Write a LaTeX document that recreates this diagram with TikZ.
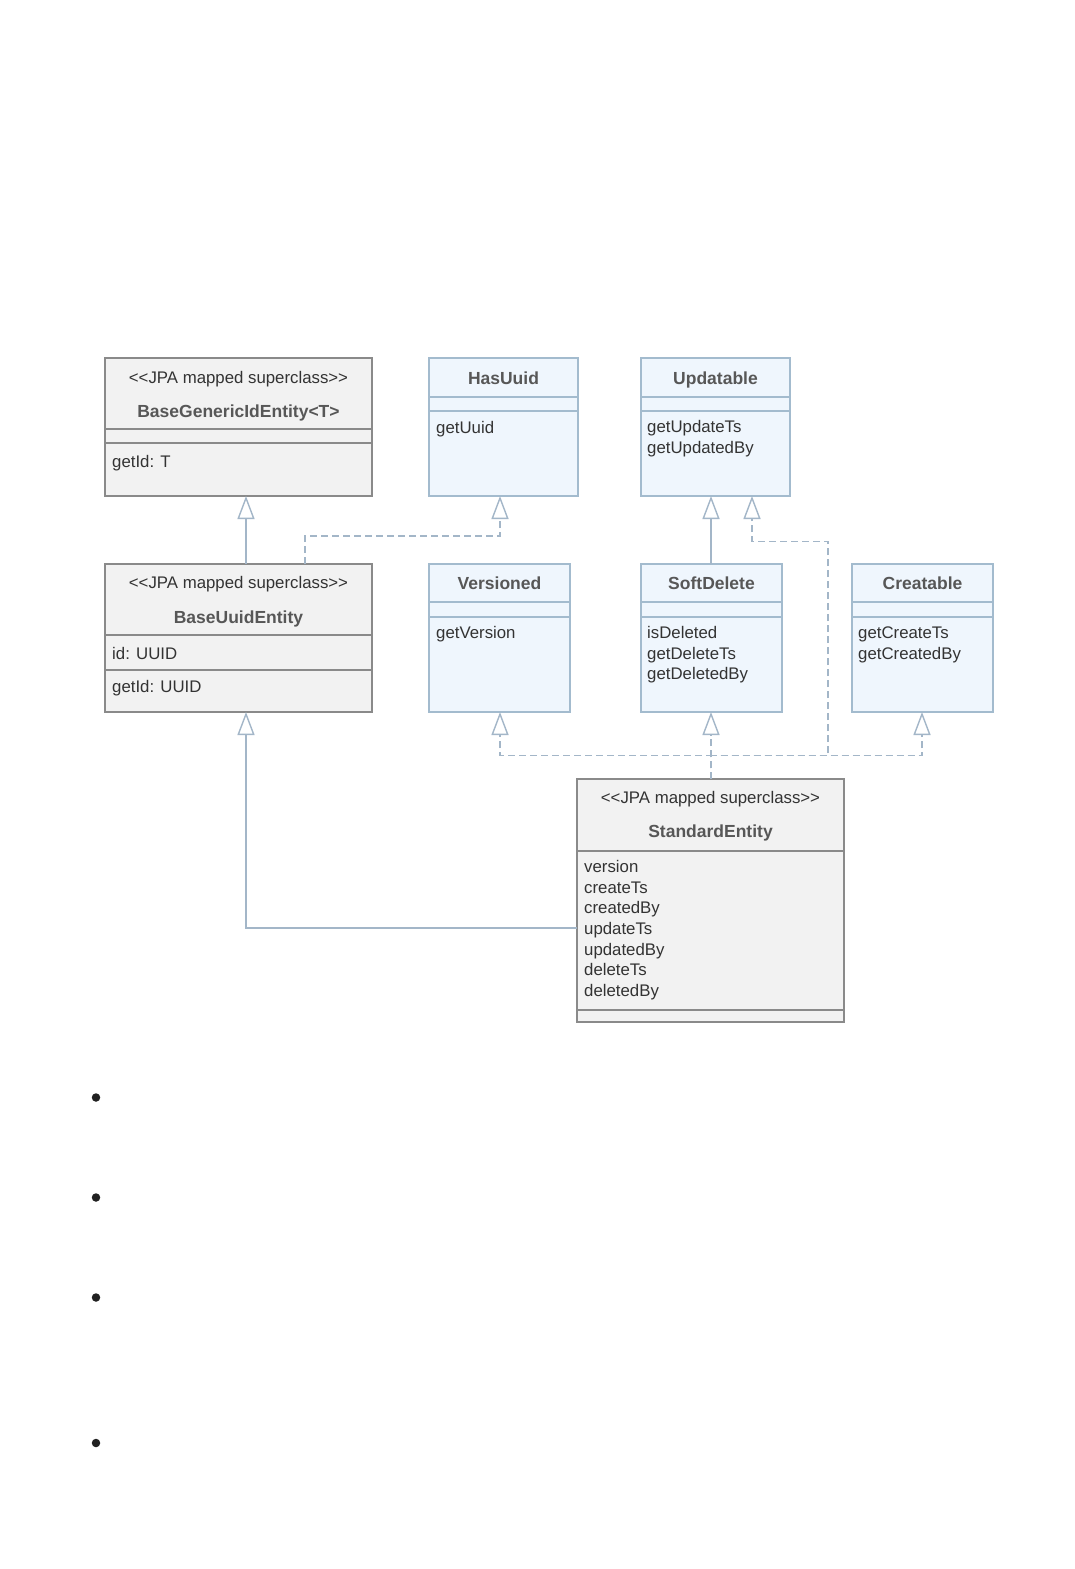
\documentclass[tikz,border=0pt]{standalone}
\usepackage{fontspec}
\newfontfamily\umlfont{Liberation Sans}
\usetikzlibrary{arrows.meta}
\definecolor{gfill}{HTML}{F2F2F2}
\definecolor{gline}{HTML}{8A8A8A}
\definecolor{bfill}{HTML}{EFF6FD}
\definecolor{bline}{HTML}{A3BBCE}
\definecolor{conn}{HTML}{A3B6C8}
\definecolor{txt}{HTML}{333333}
\definecolor{ttl}{HTML}{575757}
\begin{document}
\begin{tikzpicture}[x=1pt,y=-1pt,
  gbox/.style={draw=gline, fill=gfill, line width=1.2pt, anchor=north west, inner sep=0pt, outer sep=0pt},
  bbox/.style={draw=bline, fill=bfill, line width=1.2pt, anchor=north west, inner sep=0pt, outer sep=0pt},
  gsep/.style={draw=gline, line width=1.2pt},
  bsep/.style={draw=bline, line width=1.2pt},
  body/.style={font=\umlfont\fontsize{16.8}{20.7}\selectfont, text=txt, inner sep=0pt, anchor=base west},
  stereo/.style={font=\umlfont\fontsize{16.8}{20.7}\selectfont, text=txt, inner sep=0pt, anchor=base},
  title/.style={font=\umlfont\bfseries\fontsize{17.5}{21}\selectfont, text=ttl, inner sep=0pt, anchor=base},
  gen/.style={draw=conn, line width=1.4pt, -{Triangle[open, length=23pt, width=17pt, line width=1.4pt]}},
  real/.style={gen, dash pattern=on 7pt off 4pt},
  bullet/.style={circle, fill=black!87, inner sep=0pt, minimum size=8.5pt}
]
\useasboundingbox (0,0) rectangle (1075,1569);
\fill[white] (0,0) rectangle (1075,1569);

% ---- boxes
\node[gbox, minimum width=267pt, minimum height=138pt] (bg) at (105,358) {};
\node[bbox, minimum width=149pt, minimum height=138pt] (hu) at (429,358) {};
\node[bbox, minimum width=149pt, minimum height=138pt] (up) at (641,358) {};
\node[gbox, minimum width=267pt, minimum height=148pt] (bu) at (105,564) {};
\node[bbox, minimum width=141pt, minimum height=148pt] (ve) at (429,564) {};
\node[bbox, minimum width=141pt, minimum height=148pt] (sd) at (641,564) {};
\node[bbox, minimum width=141pt, minimum height=148pt] (cr) at (852,564) {};
\node[gbox, minimum width=267pt, minimum height=243pt] (se) at (577,779) {};

% ---- compartments
\draw[gsep] (105,429) -- (372,429) (105,443) -- (372,443);
\draw[bsep] (429,397) -- (578,397) (429,411) -- (578,411);
\draw[bsep] (641,397) -- (790,397) (641,411) -- (790,411);
\draw[gsep] (105,635) -- (372,635) (105,670) -- (372,670);
\draw[bsep] (429,602) -- (570,602) (429,617) -- (570,617);
\draw[bsep] (641,602) -- (782,602) (641,617) -- (782,617);
\draw[bsep] (852,602) -- (993,602) (852,617) -- (993,617);
\draw[gsep] (577,851) -- (844,851) (577,1010) -- (844,1010);

% ---- texts
\node[stereo] (bgs) at (238.5,383.3) {<<JPA mapped superclass>>};
\node[title]  (bgt) at (238.5,417.7) {BaseGenericIdEntity<T>};
\node[body]   (bgm) at (112,467.3) {getId: T};

\node[title] (hut) at (503.5,384) {HasUuid};
\node[body]  (hum) at (436,433) {getUuid};

\node[title] (upt) at (715.5,384) {Updatable};
\node[body]  (upm1) at (647,432.3) {getUpdateTs};
\node[body]  (upm2) at (647,453) {getUpdatedBy};

\node[stereo] (bus) at (238.5,588.3) {<<JPA mapped superclass>>};
\node[title]  (but) at (238.5,623.3) {BaseUuidEntity};
\node[body]   (bua) at (112,659) {id: UUID};
\node[body]   (bum) at (112,692.7) {getId: UUID};

\node[title] (vet) at (499.5,589.3) {Versioned};
\node[body]  (vem) at (436,638.5) {getVersion};

\node[title] (sdt) at (711.5,589.3) {SoftDelete};
\node[body]  (sdm1) at (647,638.3) {isDeleted};
\node[body]  (sdm2) at (647,659) {getDeleteTs};
\node[body]  (sdm3) at (647,679.5) {getDeletedBy};

\node[title] (crt) at (922.5,589.3) {Creatable};
\node[body]  (crm1) at (858,638.3) {getCreateTs};
\node[body]  (crm2) at (858,659) {getCreatedBy};

\node[stereo] (ses) at (710.5,803.3) {<<JPA mapped superclass>>};
\node[title]  (set) at (710.5,837.7) {StandardEntity};
\node[body] (sea1) at (584,872.3) {version};
\node[body] (sea2) at (584,893) {createTs};
\node[body] (sea3) at (584,913.7) {createdBy};
\node[body] (sea4) at (584,934.4) {updateTs};
\node[body] (sea5) at (584,955.1) {updatedBy};
\node[body] (sea6) at (584,975.8) {deleteTs};
\node[body] (sea7) at (584,996.5) {deletedBy};

% ---- routing coordinates
\coordinate (c1) at (246,0);
\coordinate (c2) at (305,0);
\coordinate (c3) at (500,0);
\coordinate (c4) at (711,0);
\coordinate (c5) at (752,0);
\coordinate (c6) at (828,0);
\coordinate (c7) at (922,0);
\coordinate (r1) at (0,536);
\coordinate (r2) at (0,541.5);
\coordinate (r3) at (0,755.5);
\coordinate (r4) at (0,928);

% ---- connectors
\draw[gen] (bu.north -| c1) -- (bg.south -| c1);
\draw[real] (bu.north -| c2) -- (c2 |- r1) -- (c3 |- r1) -- (hu.south -| c3);
\draw[gen] (sd.north -| c4) -- (up.south -| c4);
\draw[real] (se.north -| c4) -- (c4 |- r3) -- (c6 |- r3) -- (c6 |- r2) -- (c5 |- r2) -- (up.south -| c5);
\draw[real] (se.north -| c4) -- (c4 |- r3) -- (c3 |- r3) -- (ve.south -| c3);
\draw[real] (se.north -| c4) -- (sd.south -| c4);
\draw[real] (se.north -| c4) -- (c4 |- r3) -- (c7 |- r3) -- (cr.south -| c7);
\draw[gen] (se.west |- r4) -- (c1 |- r4) -- (bu.south -| c1);

% ---- bullets
\node[bullet] (b1) at (96,1097.5) {};
\node[bullet] (b2) at (96,1197.5) {};
\node[bullet] (b3) at (96,1297.5) {};
\node[bullet] (b4) at (96,1443) {};
\end{tikzpicture}
\end{document}
